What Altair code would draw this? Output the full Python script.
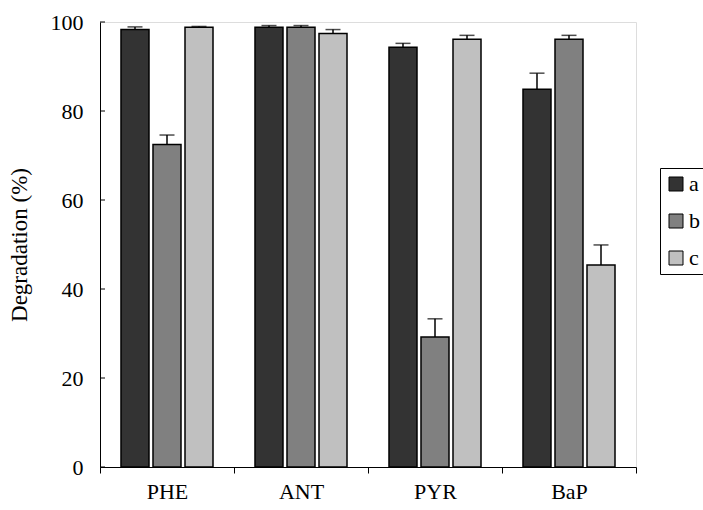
import altair as alt
import pandas as pd

compounds = ["PHE", "ANT", "PYR", "BaP"]
series = ["a", "b", "c"]
values_a = [98.3, 98.8, 94.3, 84.9]
values_b = [72.5, 98.8, 29.2, 96.1]
values_c = [98.8, 97.4, 96.1, 45.4]
err_a = [0.6, 0.4, 0.9, 3.6]
err_b = [2.1, 0.4, 4.1, 0.9]
err_c = [0.2, 0.9, 0.9, 4.5]
y_ticks = [0, 20, 40, 60, 80, 100]
colors = ["#333333", "#808080", "#c0c0c0"]

rows = []
for s, vals, errs in zip(series, [values_a, values_b, values_c], [err_a, err_b, err_c]):
    for c, v, e in zip(compounds, vals, errs):
        rows.append({"compound": c, "series": s, "value": v, "top": v + e})
df = pd.DataFrame(rows)
ticks_df = pd.DataFrame({"t": y_ticks})

FONT = "'Liberation Serif', 'Times New Roman', serif"
FS = 22

x_enc = alt.X(
    "compound:N", sort=compounds, title=None,
    scale=alt.Scale(paddingInner=0, paddingOuter=0),
    axis=alt.Axis(labelAngle=0, tickBand="extent", tickSize=6, labelPadding=8,
                  labelFont=FONT, labelFontSize=FS, labelColor="black",
                  domainColor="black", tickColor="black", domainWidth=1),
)
xo_enc = alt.XOffset("series:N", sort=series,
                     scale=alt.Scale(paddingInner=0.125, paddingOuter=0.656))
y_scale = alt.Scale(domain=[0, 100], nice=False)

bars = alt.Chart(df).mark_bar(stroke="black", strokeWidth=1.5).encode(
    x=x_enc,
    xOffset=xo_enc,
    y=alt.Y("value:Q", scale=y_scale, title="Degradation (%)",
            axis=alt.Axis(values=y_ticks, ticks=False, grid=False, labelPadding=17,
                          labelFont=FONT, labelFontSize=FS, labelColor="black",
                          titleFont=FONT, titleFontSize=23, titleFontWeight="normal",
                          titleColor="black", titlePadding=19,
                          domainColor="black", domainWidth=1)),
    color=alt.Color("series:N", sort=series,
                    scale=alt.Scale(domain=series, range=colors),
                    legend=alt.Legend(title=None, orient="none", legendX=560, legendY=146,
                                      symbolType="square", symbolSize=196,
                                      symbolStrokeColor="black", symbolStrokeWidth=1,
                                      labelFont=FONT, labelFontSize=FS, labelColor="black",
                                      rowPadding=15, strokeColor="black", padding=5,
                                      labelOffset=2)),
)

rules = alt.Chart(df).mark_rule(color="black", strokeWidth=1.5).encode(
    x=alt.X("compound:N", sort=compounds),
    xOffset=xo_enc,
    y=alt.Y("value:Q", scale=y_scale),
    y2="top:Q",
)

caps = alt.Chart(df).mark_tick(color="black", thickness=1.5, size=15, orient="horizontal").encode(
    x=alt.X("compound:N", sort=compounds),
    xOffset=xo_enc,
    y=alt.Y("top:Q", scale=y_scale),
)

yticks = alt.Chart(ticks_df).mark_rule(color="black", strokeWidth=1).encode(
    y=alt.Y("t:Q", scale=y_scale),
    x=alt.value(0),
    x2=alt.value(5),
)

chart = alt.layer(bars, rules, caps, yticks).properties(
    width=536, height=445,
    autosize=alt.AutoSizeParams(type="none"),
    padding={"left": 100, "top": 22, "right": 67, "bottom": 43},
).configure_view(stroke="#808080", strokeWidth=1.5).configure(background="white")

chart.save("out.html", embed_options={"renderer": "svg", "actions": False})
